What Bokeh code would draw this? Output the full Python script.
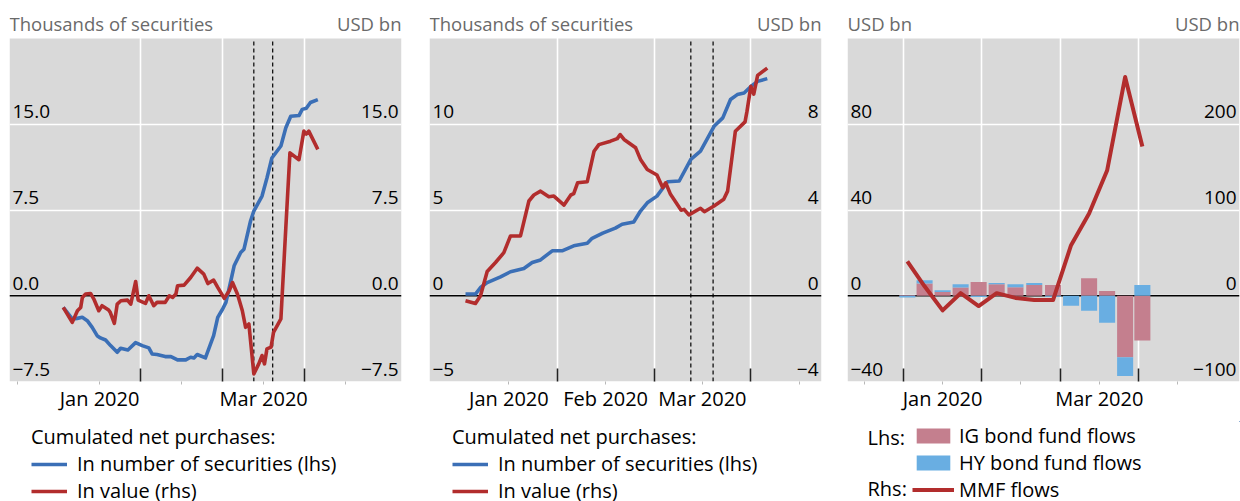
from bokeh.plotting import figure
from bokeh.models import (ColumnDataSource, Range1d, FixedTicker, Span, Label,
                          LabelSet, Legend, LegendItem, BoxAnnotation)
from bokeh.layouts import row, column
from bokeh.embed import file_html
from bokeh.resources import INLINE
from bokeh.core.properties import value
import numpy as np

FONT = "Open Sans"
BLUE = "#3b6fb6"
RED = "#b22d2d"
PINK = "#c47f8e"
LBLUE = "#69aee2"
BG = "#d9d9d9"
GREY_TXT = "#6a6a6a"

# ---------------- x axis (months; 0 = 1 Jan 2020) ----------------
month_bounds_12 = [1, 2, 3]
month_bounds_3 = [0, 1, 2, 3]
mid_months = [-0.5, 0.5, 1.5, 2.5, 3.5]
mid_labels_13 = ["", "Jan 2020", "", "Mar 2020", ""]
mid_labels_2 = ["", "Jan 2020", "Feb 2020", "Mar 2020", ""]
event_dates = [2.38, 2.61]   # dashed vertical lines (mid-March 2020)

# ---------------- Panel 1 ----------------
p1_num_x = [0.057, 0.167, 0.228, 0.289, 0.35, 0.41, 0.47, 0.51, 0.573, 0.634, 0.715,
            0.756, 0.845, 0.939, 1.02, 1.10, 1.14, 1.20, 1.30, 1.37, 1.45, 1.55, 1.61,
            1.65, 1.69, 1.79, 1.89, 1.94, 2.00, 2.04, 2.10, 2.14, 2.22, 2.26, 2.34,
            2.38, 2.48, 2.54, 2.60, 2.71, 2.77, 2.83, 2.93, 2.97, 3.02, 3.07, 3.16]
p1_num_y = [-1.02, -2.03, -1.98, -1.89, -2.18, -2.76, -3.49, -3.69, -3.87, -4.36, -4.94,
            -4.59, -4.74, -4.10, -4.36, -4.56, -5.09, -5.14, -5.32, -5.32, -5.61, -5.61, -5.38,
            -5.44, -5.14, -5.44, -3.49, -1.89, -1.16, -0.58, 1.31, 2.62, 3.78, 4.07, 6.54,
            7.41, 8.72, 10.3, 12.05, 13.1, 14.7, 15.7, 15.76, 16.3, 16.4, 16.9, 17.15]
p1_val_x = [0.057, 0.167, 0.23, 0.27, 0.29, 0.33, 0.39, 0.43, 0.49, 0.53, 0.61, 0.63,
            0.68, 0.715, 0.76, 0.84, 0.88, 0.94, 0.97, 1.06, 1.10, 1.16, 1.20, 1.30, 1.35,
            1.39, 1.43, 1.45, 1.53, 1.61, 1.69, 1.77, 1.82, 1.89, 1.94, 2.02, 2.08, 2.12,
            2.18, 2.24, 2.28, 2.32, 2.38, 2.44, 2.48, 2.51, 2.54, 2.59, 2.62, 2.71, 2.77,
            2.82, 2.93, 2.99, 3.02, 3.05, 3.16]
p1_val_y = [-1.02, -2.33, -1.31, -1.02, -0.15, 0.15, 0.2, -0.29, -1.31, -0.87, -1.25, -1.45,
            -2.41, -0.73, -0.44, -0.38, -0.73, 1.25, -0.38, -0.67, 0.0, -0.87, -0.58, -0.58, 0.0,
            -0.15, 0.15, 0.87, 0.93, 1.6, 2.41, 1.89, 1.07, 1.37, 0.73, -0.23, 0.44, 1.16,
            0.15, -1.31, -2.76, -2.47, -6.83, -5.96, -5.23, -5.96, -4.65, -4.5, -3.2, -2.03, 5.96,
            12.5, 11.9, 14.4, 14.15, 14.4, 12.8]
p1_ticks = [-7.5, 0.0, 7.5, 15.0]
p1_tick_text = ["\u22127.5", "0.0", "7.5", "15.0"]

# ---------------- Panel 2 ----------------
p2_num_x = [0.052, 0.155, 0.207, 0.276, 0.414, 0.517, 0.655, 0.741, 0.827, 0.948, 1.05,
            1.17, 1.31, 1.36, 1.47, 1.60, 1.67, 1.79, 1.86, 1.93, 2.03, 2.14, 2.26, 2.38,
            2.48, 2.62, 2.71, 2.79, 2.86, 2.93, 3.0, 3.07, 3.17]
p2_num_y = [0.1, 0.1, 0.48, 0.77, 1.1, 1.4, 1.59, 1.94, 2.09, 2.62, 2.62,
            2.91, 3.06, 3.35, 3.65, 3.94, 4.17, 4.3, 4.94, 5.42, 5.81, 6.65, 6.69, 7.95,
            8.43, 9.88, 10.37, 11.44, 11.73, 11.82, 12.2, 12.5, 12.66]
p2_val_x = [0.052, 0.155, 0.207, 0.276, 0.362, 0.448, 0.517, 0.62, 0.707, 0.758, 0.827,
            0.913, 0.965, 1.07, 1.14, 1.17, 1.21, 1.31, 1.38, 1.43, 1.55, 1.62, 1.65, 1.69,
            1.81, 1.86, 1.93, 2.03, 2.09, 2.12, 2.17, 2.28, 2.31, 2.36, 2.48, 2.52, 2.62,
            2.72, 2.76, 2.84, 2.94, 2.96, 3.0, 3.03, 3.07, 3.17]
p2_val_y = [-0.23, -0.36, 0.0, 1.13, 1.55, 2.01, 2.79, 2.79, 4.42, 4.7, 4.88,
            4.62, 4.65, 4.23, 4.7, 4.76, 5.27, 5.32, 6.74, 7.05, 7.21, 7.33, 7.52, 7.29,
            6.9, 6.36, 5.89, 5.63, 5.04, 5.27, 4.73, 3.99, 4.03, 3.77, 4.08, 3.92, 4.19,
            4.5, 4.88, 7.67, 8.11, 8.6, 9.77, 9.41, 10.28, 10.62]
p2_ticks_l = [-5, 0, 5, 10]
p2_text_l = ["\u22125", "0", "5", "10"]
p2_ticks_r = [-4, 0, 4, 8]
p2_text_r = ["\u22124", "0", "4", "8"]

# ---------------- Panel 3 (weekly) ----------------
p3_week = [0.05, 0.27, 0.50, 0.73, 0.96, 1.19, 1.43, 1.67, 1.91, 2.14, 2.37, 2.60, 2.83, 3.05]
p3_ig = [0.4, 5.7, 1.7, 3.9, 6.4, 5.4, 4.0, 5.0, 5.0, 0.0, 8.2, 2.2, -28.7, -20.9]
p3_hy = [-0.8, 1.5, 0.9, 1.5, -0.6, 0.5, 1.4, 0.9, -0.5, -4.7, -7.0, -12.6, -8.7, 5.0]
p3_mmf = [40, 11, -17, 3, -12, 3, -2.5, -5, -5, 59, 96, 146, 255, 174]
p3_ticks_l = [-40, 0, 40, 80]
p3_text_l = ["\u221240", "0", "40", "80"]
p3_ticks_r = [-100, 0, 100, 200]
p3_text_r = ["\u2212100", "0", "100", "200"]

FRAME_H = 343      # height of the grey plotting area
HEAD_H = 38        # white header strip above it
AXIS_H = 40        # x-axis strip
LEG_H = 501 - HEAD_H - FRAME_H - AXIS_H
FRAME_W = 392
LEG_FONT = "20px"


def ext(r):
    """extend a range upward so that a header strip fits inside the frame"""
    return (r[0], r[1] + (r[1] - r[0]) * HEAD_H / FRAME_H)


def make_fig(width, bl, br, xr, yr, bounds, tick_labels):
    p = figure(width=width, height=HEAD_H + FRAME_H + AXIS_H, x_range=Range1d(*xr),
               y_range=Range1d(*ext(yr)),
               output_backend="svg", toolbar_location=None, y_axis_location=None,
               title=None, min_border_left=bl, min_border_right=br, min_border_top=0,
               min_border_bottom=AXIS_H, background_fill_color="white",
               border_fill_color="white", outline_line_color=None)
    p.add_layout(BoxAnnotation(bottom=yr[0], top=yr[1], fill_color=BG, fill_alpha=1,
                               line_color=None, level="image"))
    ax = p.xaxis[0]
    ax.ticker = FixedTicker(ticks=mid_months, minor_ticks=bounds)
    ax.major_label_overrides = {t: s for t, s in zip(mid_months, tick_labels)}
    ax.axis_line_color = None
    ax.major_tick_in = 0
    ax.major_tick_out = 3
    ax.major_tick_line_color = "#b8b8b8"
    ax.minor_tick_in = 13
    ax.minor_tick_out = 0
    ax.minor_tick_line_color = "#222222"
    ax.minor_tick_line_width = 1.6
    ax.major_label_text_font = FONT
    ax.major_label_text_font_size = "20px"
    ax.major_label_text_color = "black"
    ax.major_label_standoff = 0
    p.xgrid.ticker = FixedTicker(ticks=bounds)
    p.xgrid.grid_line_color = "white"
    p.xgrid.grid_line_width = 1.6
    p.ygrid.grid_line_color = "white"
    p.ygrid.grid_line_width = 1.6
    p.add_layout(Span(location=0, dimension="width", line_color="black",
                      line_width=1.3, level="underlay"))
    return p


def tick_labels(p, xr, ticks, texts, side, range_name="default"):
    xpos = xr[0] if side == "left" else xr[1]
    src = ColumnDataSource(dict(x=[xpos] * len(ticks), y=ticks, t=texts))
    ls = LabelSet(x="x", y="y", text="t", source=src, y_range_name=range_name,
                  x_offset=3 if side == "left" else -3, y_offset=6,
                  text_align="left" if side == "left" else "right",
                  text_baseline="alphabetic", text_font=value(FONT),
                  text_font_size="19px", text_color="black")
    p.add_layout(ls)


def header(p, text, side):
    # screen units inside the (extended) frame: measured from the frame's bottom-left
    p.add_layout(Label(x=0 if side == "left" else FRAME_W, y=HEAD_H + FRAME_H - 23,
                       x_units="screen", y_units="screen", text=text,
                       text_align="left" if side == "left" else "right",
                       text_baseline="alphabetic", text_font=FONT,
                       text_font_size="18.5px", text_color=GREY_TXT))


def events(p, yr):
    n = len(event_dates)
    p.segment(x0=event_dates, y0=[yr[0]] * n, x1=event_dates, y1=[yr[1]] * n,
              line_color="black", line_width=1.2, line_dash="4 3")


def legend_fig(width):
    # legend strip; its ranges are far from the data so the proxy glyphs stay hidden
    lf = figure(width=width, height=LEG_H, x_range=Range1d(-1000, -999),
                y_range=Range1d(-1000, -999),
                output_backend="svg", toolbar_location=None, x_axis_location=None,
                y_axis_location=None, title=None, min_border=0,
                min_border_left=0, min_border_right=0, min_border_top=0,
                min_border_bottom=0, background_fill_color="white",
                border_fill_color="white", outline_line_color=None)
    lf.xgrid.visible = False
    lf.ygrid.visible = False
    return lf


def line_legend(width, vx, nx, ny, vxs, vys):
    lf = legend_fig(width)
    rb = lf.line(nx, ny, line_color=BLUE, line_width=3.5)
    rr = lf.line(vxs, vys, line_color=RED, line_width=3.5)
    lg = Legend(items=[LegendItem(label="In number of securities (lhs)", renderers=[rb]),
                       LegendItem(label="In value (rhs)", renderers=[rr])],
                title="Cumulated net purchases:", location=(vx, -3),
                title_text_font=FONT, title_text_font_size=LEG_FONT,
                title_text_font_style="normal", title_text_color="black",
                title_standoff=0,
                label_text_font=FONT, label_text_font_size=LEG_FONT,
                label_text_color="black",
                glyph_width=36, glyph_height=18, label_height=18, spacing=0,
                label_standoff=10, padding=0, margin=0, border_line_color=None,
                background_fill_alpha=0)
    lf.add_layout(lg)
    return lf


# ---------- Panel 1 ----------
xr1 = (-0.598, 4.18)
yr1 = (-7.5, 22.5)
p1 = make_fig(415, 9, 14, xr1, yr1, month_bounds_12, mid_labels_13)
p1.ygrid.ticker = FixedTicker(ticks=p1_ticks)
events(p1, yr1)
p1.line(p1_num_x, p1_num_y, line_color=BLUE, line_width=3.6, line_join="round")
p1.line(p1_val_x, p1_val_y, line_color=RED, line_width=3.6, line_join="round")
tick_labels(p1, xr1, p1_ticks, p1_tick_text, "left")
tick_labels(p1, xr1, p1_ticks, p1_tick_text, "right")
header(p1, "Thousands of securities", "left")
header(p1, "USD bn", "right")
l1 = line_legend(415, 22, p1_num_x, p1_num_y, p1_val_x, p1_val_y)

# ---------- Panel 2 ----------
xr2 = (-0.32, 3.73)
yr2 = (-5, 15)
yr2r = (-4, 12)
p2 = make_fig(415, 14, 9, xr2, yr2, month_bounds_12, mid_labels_2)
p2.extra_y_ranges = {"right": Range1d(*ext(yr2r))}
p2.ygrid.ticker = FixedTicker(ticks=p2_ticks_l)
events(p2, yr2)
p2.line(p2_num_x, p2_num_y, line_color=BLUE, line_width=3.6, line_join="round")
p2.line(p2_val_x, p2_val_y, line_color=RED, line_width=3.6, line_join="round",
        y_range_name="right")
tick_labels(p2, xr2, p2_ticks_l, p2_text_l, "left")
tick_labels(p2, xr2, p2_ticks_r, p2_text_r, "right", "right")
header(p2, "Thousands of securities", "left")
header(p2, "USD bn", "right")
l2 = line_legend(415, 23, p2_num_x, p2_num_y, p2_val_x, p2_val_y)

# ---------- Panel 3 ----------
xr3 = (-0.714, 4.29)
yr3 = (-40, 120)
yr3r = (-100, 300)
p3 = make_fig(410, 17, 1, xr3, yr3, month_bounds_3, mid_labels_13)
p3.extra_y_ranges = {"right": Range1d(*ext(yr3r))}
p3.ygrid.ticker = FixedTicker(ticks=p3_ticks_l)

ig = np.array(p3_ig, dtype=float)
hy = np.array(p3_hy, dtype=float)
same = np.sign(ig) == np.sign(hy)
hy_bottom = np.where(same, ig, 0.0)
hy_top = hy_bottom + hy
bw = 0.205
p3.vbar(x=p3_week, width=bw, bottom=0, top=ig, fill_color=PINK, line_color=None)
p3.vbar(x=p3_week, width=bw, bottom=hy_bottom, top=hy_top, fill_color=LBLUE,
        line_color=None)
p3.line(p3_week, p3_mmf, line_color=RED, line_width=4, line_join="round",
        y_range_name="right")
tick_labels(p3, xr3, p3_ticks_l, p3_text_l, "left")
tick_labels(p3, xr3, p3_ticks_r, p3_text_r, "right", "right")
header(p3, "USD bn", "left")
header(p3, "USD bn", "right")

l3 = legend_fig(410)
g_ig = l3.vbar(x=p3_week, top=ig, width=bw, fill_color=PINK, line_color=None)
g_hy = l3.vbar(x=p3_week, top=hy_top, bottom=hy_bottom, width=bw, fill_color=LBLUE,
               line_color=None)
g_mmf = l3.line(p3_week, p3_mmf, line_color=RED, line_width=4)
lg3 = Legend(items=[LegendItem(label="IG bond fund flows", renderers=[g_ig]),
                    LegendItem(label="HY bond fund flows", renderers=[g_hy]),
                    LegendItem(label="MMF flows", renderers=[g_mmf])],
             location=(65, -2),
             label_text_font=FONT, label_text_font_size=LEG_FONT, label_text_color="black",
             glyph_width=42, glyph_height=19, label_height=19, spacing=0,
             label_standoff=5, padding=0, margin=0, border_line_color=None,
             background_fill_alpha=0)
l3.add_layout(lg3)
for txt, yy in (("Lhs:", 64), ("Rhs:", 13)):
    l3.add_layout(Label(x=20, y=yy, x_units="screen", y_units="screen", text=txt,
                        text_baseline="middle", text_font=FONT, text_font_size=LEG_FONT,
                        text_color="black"))

layout = row(column(p1, l1), column(p2, l2), column(p3, l3))
open("out.html", "w").write(file_html(layout, INLINE))
